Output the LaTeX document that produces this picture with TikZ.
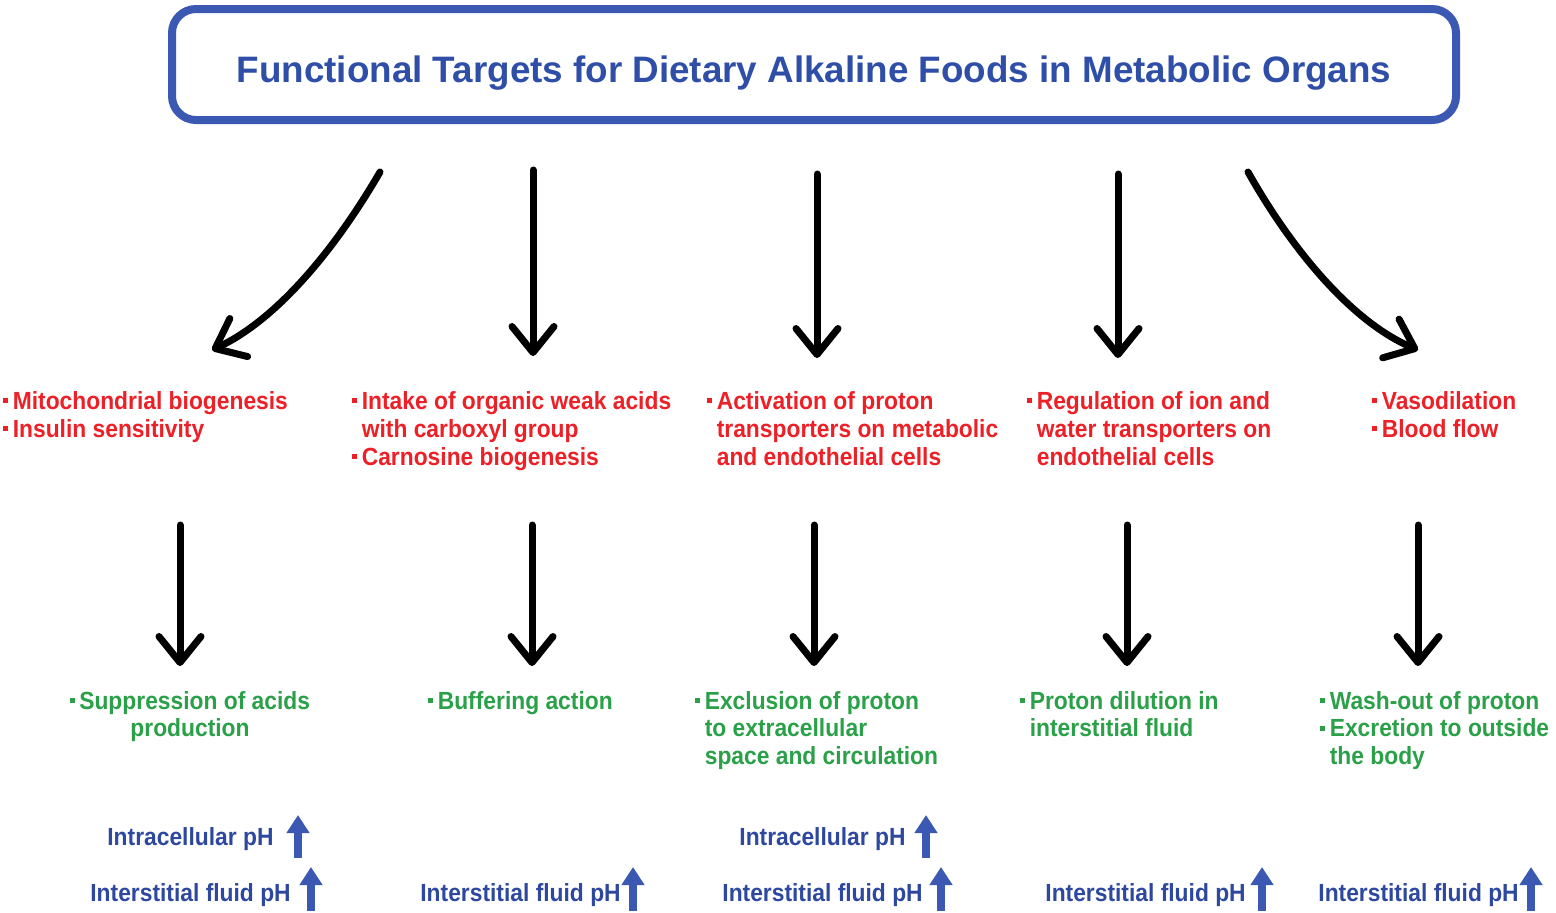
\documentclass[tikz,border=0pt]{standalone}
\usepackage{fontspec}
\setmainfont{Liberation Sans}
\newfontfamily\narrowsans{Liberation Sans}[FakeStretch=0.92]
\usetikzlibrary{arrows.meta,positioning}

\definecolor{frameblue}{RGB}{59,88,178}
\definecolor{titleblue}{RGB}{46,78,168}
\definecolor{targetred}{RGB}{236,32,38}
\definecolor{effectgreen}{RGB}{42,160,72}
\definecolor{phblue}{RGB}{45,72,158}

\newcommand{\bul}{\rule[0.25em]{0.2em}{0.2em}\hspace{0.18em}}
\newcommand{\nobul}{\hphantom{\bul}}

\tikzset{
  flow/.style={line width=3.5pt, line cap=round, -{Straight Barb[length=13pt,width=21pt,round]}},
  rise/.style={line width=4pt, draw=frameblue, -{Triangle[length=9pt,width=11pt]}},
  target/.style={text=targetred, font=\narrowsans\bfseries\fontsize{12.4}{14}\selectfont, align=left, anchor=north west, inner sep=0pt},
  effect/.style={text=effectgreen, font=\narrowsans\bfseries\fontsize{12.4}{13.75}\selectfont, align=left, anchor=north west, inner sep=0pt},
  level/.style={text=phblue, font=\narrowsans\bfseries\fontsize{12.4}{14}\selectfont, anchor=base west, inner sep=0pt},
}

\begin{document}
\begin{tikzpicture}[x=0.5pt, y=-0.5pt]
\useasboundingbox (0,0) rectangle (1556,912);

\node [draw=frameblue, line width=4pt, rounded corners=12pt, minimum width=642pt, minimum height=55.5pt] (frame) at (814,64.5) {};
\node [anchor=base, text=titleblue, font=\bfseries\fontsize{18.4}{20}\selectfont] (title) at (814,82) {Functional Targets for Dietary Alkaline Foods in Metabolic Organs};

% targets
\node [target] (t1) at (3,391) {\bul Mitochondrial biogenesis\\\bul Insulin sensitivity};
\node [target] (t2) at (352,391) {\bul Intake of organic weak acids\\\nobul with carboxyl group\\\bul Carnosine biogenesis};
\node [target] (t3) at (707,391) {\bul Activation of proton\\\nobul transporters on metabolic\\\nobul and endothelial cells};
\node [target] (t4) at (1027,391) {\bul Regulation of ion and\\\nobul water transporters on\\\nobul endothelial cells};
\node [target] (t5) at (1372,391) {\bul Vasodilation\\\bul Blood flow};

% effects
\node [effect, align=center, anchor=north] (e1) at (190,691) {\bul Suppression of acids\\production};
\node [effect] (e2) at (428,691) {\bul Buffering action};
\node [effect] (e3) at (695,691) {\bul Exclusion of proton\\\nobul to extracellular\\\nobul space and circulation};
\node [effect] (e4) at (1020,691) {\bul Proton dilution in\\\nobul interstitial fluid};
\node [effect] (e5) at (1320,691) {\bul Wash-out of proton\\\bul Excretion to outside\\\nobul the body};

% pH
\node [level] (ic1) at (107,845) {Intracellular pH};
\node [level] (if1) at (90,901) {Interstitial fluid pH};
\node [level] (if2) at (420,901) {Interstitial fluid pH};
\node [level] (ic3) at (739,845) {Intracellular pH};
\node [level] (if3) at (722,901) {Interstitial fluid pH};
\node [level] (if4) at (1045,901) {Interstitial fluid pH};
\node [level] (if5) at (1318,901) {Interstitial fluid pH};

% arrow ends
\coordinate (a1) at (380,172);  \coordinate (b1) at (212,350);
\coordinate (a2) at (533,170);  \coordinate (b2) at (533,356);
\coordinate (a3) at (817,174);  \coordinate (b3) at (817,358);
\coordinate (a4) at (1118,174); \coordinate (b4) at (1118,358);
\coordinate (a5) at (1248,172); \coordinate (b5) at (1418,350);

\coordinate (c1) at (180,525);  \coordinate (d1) at (180,666);
\coordinate (c2) at (532,525);  \coordinate (d2) at (532,666);
\coordinate (c3) at (814,525);  \coordinate (d3) at (814,666);
\coordinate (c4) at (1127,525); \coordinate (d4) at (1127,666);
\coordinate (c5) at (1418,525); \coordinate (d5) at (1418,666);

\draw [flow] (a1) .. controls (330,258) and (272,322) .. (b1);
\draw [flow] (a2) -- (b2);
\draw [flow] (a3) -- (b3);
\draw [flow] (a4) -- (b4);
\draw [flow] (a5) .. controls (1292,250) and (1352,322) .. (b5);

\draw [flow] (c1) -- (d1);
\draw [flow] (c2) -- (d2);
\draw [flow] (c3) -- (d3);
\draw [flow] (c4) -- (d4);
\draw [flow] (c5) -- (d5);

% pH rises
\coordinate (u1) at (298,858);  \coordinate (v1) at (298,815);
\coordinate (u2) at (311,911);  \coordinate (v2) at (311,867);
\coordinate (u3) at (633,911);  \coordinate (v3) at (633,867);
\coordinate (u4) at (926,858);  \coordinate (v4) at (926,815);
\coordinate (u5) at (941,911);  \coordinate (v5) at (941,867);
\coordinate (u6) at (1262,911); \coordinate (v6) at (1262,867);
\coordinate (u7) at (1531,911); \coordinate (v7) at (1531,867);

\draw [rise] (u1) -- (v1);
\draw [rise] (u2) -- (v2);
\draw [rise] (u3) -- (v3);
\draw [rise] (u4) -- (v4);
\draw [rise] (u5) -- (v5);
\draw [rise] (u6) -- (v6);
\draw [rise] (u7) -- (v7);

\end{tikzpicture}
\end{document}
